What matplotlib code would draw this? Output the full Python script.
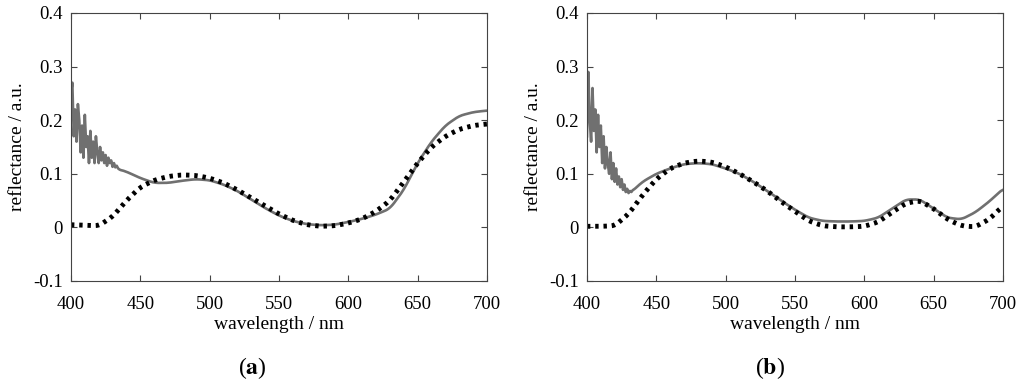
import matplotlib
matplotlib.use("Agg")
import matplotlib.pyplot as plt
import numpy as np

plt.rcParams["font.family"] = ["Liberation Serif", "DejaVu Serif"]
plt.rcParams["mathtext.fontset"] = "stix"

# Panel (a): noisy start of the measured spectrum (1 nm steps from 400 nm)
a_noisy_wl = np.arange(400, 436)
a_noisy = [0.25, 0.27, 0.17, 0.22, 0.16, 0.23, 0.20, 0.14, 0.19, 0.13,
           0.21, 0.15, 0.17, 0.12, 0.18, 0.13, 0.16, 0.12, 0.17, 0.14,
           0.12, 0.15, 0.125, 0.14, 0.12, 0.135, 0.115, 0.13, 0.12, 0.125,
           0.113, 0.12, 0.112, 0.115, 0.11, 0.108]

# smooth part, 10 nm steps
wl = np.arange(440, 701, 10)
a_meas = [0.104, 0.092, 0.083, 0.083, 0.087, 0.09, 0.088, 0.08, 0.068, 0.052,
          0.036, 0.022, 0.012, 0.006, 0.004, 0.005, 0.01, 0.016, 0.024, 0.035,
          0.07, 0.12, 0.16, 0.19, 0.208, 0.215, 0.218]

wl_fit = np.arange(400, 701, 10)
a_fit = [0.005, 0.004, 0.003, 0.02, 0.05, 0.075, 0.088, 0.095, 0.098, 0.097,
         0.092, 0.083, 0.07, 0.055, 0.04, 0.025, 0.013, 0.005, 0.002, 0.003,
         0.008, 0.016, 0.03, 0.05, 0.085, 0.12, 0.15, 0.17, 0.183, 0.19, 0.193]

# Panel (b)
b_noisy_wl = np.arange(400, 433)
b_noisy = [0.17, 0.29, 0.20, 0.16, 0.26, 0.18, 0.22, 0.14, 0.21, 0.15,
           0.19, 0.12, 0.17, 0.11, 0.15, 0.12, 0.10, 0.14, 0.09, 0.12,
           0.085, 0.11, 0.08, 0.095, 0.075, 0.09, 0.07, 0.08, 0.066, 0.072,
           0.064, 0.068, 0.066]
b_wl = np.arange(440, 701, 10)
b_meas = [0.085, 0.10, 0.11, 0.118, 0.12, 0.118, 0.11, 0.10, 0.085, 0.068,
          0.05, 0.033, 0.018, 0.012, 0.011, 0.011, 0.012, 0.018, 0.035, 0.052,
          0.052, 0.035, 0.018, 0.015, 0.028, 0.048, 0.072]
b_fit = [0.002, 0.002, 0.003, 0.025, 0.06, 0.09, 0.11, 0.12, 0.124, 0.122,
         0.113, 0.10, 0.085, 0.068, 0.048, 0.03, 0.012, 0.003, 0.001, 0.001,
         0.002, 0.01, 0.028, 0.045, 0.05, 0.035, 0.015, 0.003, 0.001, 0.015, 0.04]


def smooth(x, y, step=1):
    # resample at 1 nm and soften the corners with a short moving average
    xs = np.arange(x[0], x[-1] + step, step)
    ys = np.interp(xs, x, y)
    k = 7
    pad = np.pad(ys, k // 2, mode="edge")
    ys = np.convolve(pad, np.ones(k) / k, mode="valid")
    return xs, ys


fig = plt.figure(figsize=(10.24, 3.88), dpi=100)
ax1 = fig.add_axes([0.0693, 0.2758, 0.40625, 0.6907])
ax2 = fig.add_axes([0.5732, 0.2758, 0.40625, 0.6907])

panels = [(ax1, a_noisy_wl, a_noisy, wl, a_meas, a_fit, "a", 0.246),
          (ax2, b_noisy_wl, b_noisy, b_wl, b_meas, b_fit, "b", 0.752)]

for ax, nwl, nval, swl, meas, fit, lab, lx in panels:
    sx, sy = smooth(np.concatenate([nwl[-1:], swl]), [nval[-1]] + list(meas))
    mx = np.concatenate([nwl, sx[1:]])
    my = np.concatenate([nval, sy[1:]])
    ax.plot(mx, my, color="#707070", lw=1.9)
    fx, fy = smooth(wl_fit, fit)
    ax.plot(fx, fy, color="black", lw=3.5, linestyle=(0, (0.7, 1.0)),
            dash_capstyle="butt")

    ax.set_xlim(400, 700)
    ax.set_ylim(-0.1, 0.4)
    ax.set_xticks(np.arange(400, 701, 50))
    ax.set_yticks([-0.1, 0, 0.1, 0.2, 0.3, 0.4])
    ax.set_yticklabels(["-0.1", "0", "0.1", "0.2", "0.3", "0.4"])
    ax.tick_params(direction="in", top=True, right=True, labelsize=13.5,
                   length=4, color="#444444")
    ax.tick_params(axis="x", pad=10.5)
    ax.tick_params(axis="y", pad=6)
    for s in ax.spines.values():
        s.set_color("#444444")
    ax.set_xlabel("wavelength / nm", fontsize=14, va="center")
    ax.set_ylabel("reflectance / a.u.", fontsize=14, va="center")
    ax.xaxis.set_label_coords(0.5, -0.164)
    ax.yaxis.set_label_coords(-0.128, 0.5)
    fig.text(lx, 0.0515, r"($\mathbf{" + lab + "}$)", fontsize=17,
             ha="center", va="center")

fig.savefig("out.png", dpi=100)
